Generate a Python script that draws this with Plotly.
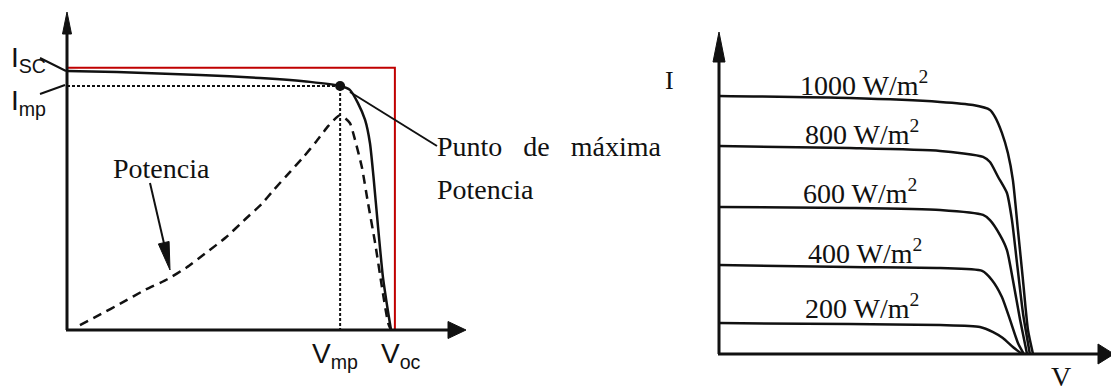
import plotly.graph_objects as go

# ---------------- left panel: I-V and P-V curve of a PV cell ----------------
# voltage normalised to Voc, current normalised to Isc
iv_v = [0.0, 0.154, 0.410, 0.596, 0.750, 0.843, 0.873, 0.898, 0.920, 0.935, 0.946, 0.960, 0.975, 0.990, 1.0]
iv_i = [1.0, 0.996, 0.985, 0.973, 0.958, 0.942, 0.927, 0.876, 0.811, 0.722, 0.591, 0.398, 0.205, 0.077, 0.0]

# power normalised to Pmax
pw_v = [0.04, 0.10, 0.17, 0.24, 0.31, 0.37, 0.43, 0.49, 0.55, 0.60, 0.64, 0.69, 0.73, 0.77, 0.806, 0.843,
        0.873, 0.889, 0.910, 0.929, 0.951, 0.972, 0.991, 1.0]
pw_p = [0.023, 0.07, 0.127, 0.186, 0.236, 0.292, 0.36, 0.43, 0.515, 0.585, 0.655, 0.738, 0.805, 0.878, 0.948, 1.0,
        0.963, 0.884, 0.758, 0.591, 0.405, 0.200, 0.033, 0.0]

v_mp, i_mp = 0.843, 0.942
ideal_v = [0.0, 1.012, 1.012]
ideal_i = [1.013, 1.013, 0.0]

# ---------------- right panel: I-V curves vs irradiance ----------------
irr_labels = ["1000 W/m<sup>2</sup>", "800 W/m<sup>2</sup>", "600 W/m<sup>2</sup>",
              "400 W/m<sup>2</sup>", "200 W/m<sup>2</sup>"]

g1000_v = [0.0, 0.417, 0.704, 0.809, 0.863, 0.879, 0.901, 0.920, 0.936, 0.952, 0.968, 0.984, 1.0]
g1000_i = [1.0, 0.992, 0.977, 0.965, 0.946, 0.919, 0.857, 0.779, 0.674, 0.481, 0.287, 0.093, 0.0]

g800_v = [0.0, 0.417, 0.704, 0.841, 0.863, 0.889, 0.917, 0.933, 0.949, 0.968, 0.990]
g800_i = [0.806, 0.798, 0.787, 0.764, 0.744, 0.686, 0.624, 0.519, 0.353, 0.159, 0.0]

g600_v = [0.0, 0.417, 0.704, 0.841, 0.863, 0.895, 0.917, 0.936, 0.959, 0.981]
g600_i = [0.570, 0.566, 0.558, 0.539, 0.519, 0.461, 0.403, 0.287, 0.132, 0.0]

g400_v = [0.0, 0.417, 0.704, 0.838, 0.869, 0.901, 0.927, 0.952, 0.971]
g400_i = [0.345, 0.337, 0.333, 0.322, 0.287, 0.221, 0.132, 0.043, 0.0]

g200_v = [0.0, 0.417, 0.704, 0.831, 0.873, 0.904, 0.936, 0.965]
g200_i = [0.120, 0.116, 0.112, 0.105, 0.085, 0.062, 0.027, 0.0]

# ---------------- page geometry (pixels) ----------------
W, H = 1111, 391
SPLIT = 600
L_X0, L_XS = 67, 324      # V = 0 column and px per Voc
L_Y0, L_YS = 330, 259     # I = 0 row and px per Isc
P_YS = 215                # px per Pmax
R_X0, R_XS = 719, 314
R_Y0, R_YS = 354, 258


def lx(px):
    return (px - L_X0) / L_XS


def ly(py):
    return (L_Y0 - py) / L_YS


def rx(px):
    return (px - R_X0) / R_XS


def ry(py):
    return (R_Y0 - py) / R_YS


BLACK = "#111111"
RED = "#c00000"
SERIF = "Liberation Serif, Times New Roman, serif"
SANS = "Liberation Sans, Arial, sans-serif"

fig = go.Figure()

# ideal rectangle Isc x Voc
fig.add_trace(go.Scatter(x=ideal_v, y=ideal_i, mode="lines",
                         line=dict(color=RED, width=2), xaxis="x", yaxis="y"))
# guides to the maximum power point
fig.add_trace(go.Scatter(x=[0, v_mp, v_mp], y=[i_mp, i_mp, 0], mode="lines",
                         line=dict(color=BLACK, width=2, dash="3px,2px"), xaxis="x", yaxis="y"))
# I-V curve
fig.add_trace(go.Scatter(x=iv_v, y=iv_i, mode="lines",
                         line=dict(color=BLACK, width=2.5, shape="spline", smoothing=0.6),
                         xaxis="x", yaxis="y"))
# P-V curve on its own scale
fig.add_trace(go.Scatter(x=pw_v, y=pw_p, mode="lines",
                         line=dict(color=BLACK, width=2.5, dash="9px,6px", shape="spline", smoothing=0.5),
                         xaxis="x", yaxis="y3"))
# maximum power point
fig.add_trace(go.Scatter(x=[v_mp], y=[i_mp], mode="markers",
                         marker=dict(color=BLACK, size=10), xaxis="x", yaxis="y"))

# irradiance family
for vv, ii in [(g1000_v, g1000_i), (g800_v, g800_i), (g600_v, g600_i),
               (g400_v, g400_i), (g200_v, g200_i)]:
    fig.add_trace(go.Scatter(x=vv, y=ii, mode="lines",
                             line=dict(color=BLACK, width=2.5, shape="spline", smoothing=0.6),
                             xaxis="x2", yaxis="y2"))


def seg(xref, yref, x0, y0, x1, y1, width=3):
    return dict(type="line", xref=xref, yref=yref, x0=x0, y0=y0, x1=x1, y1=y1,
                line=dict(color=BLACK, width=width))


def arrow_head(xref, yref, x, y, dx, dy, length, width):
    # triangle with tip at (x, y); (dx, dy) is the pointing direction, y up
    n = (dx * dx + dy * dy) ** 0.5
    ux, uy = dx / n, dy / n
    nx, ny = -uy, ux
    bx, by = -ux * length, -uy * length
    p1 = (bx + nx * width / 2, by + ny * width / 2)
    p2 = (bx - nx * width / 2, by - ny * width / 2)
    path = f"M0,0 L{p1[0]:.2f},{p1[1]:.2f} L{p2[0]:.2f},{p2[1]:.2f} Z"
    return dict(type="path", xref=xref, yref=yref, xsizemode="pixel", ysizemode="pixel",
                xanchor=x, yanchor=y, path=path, fillcolor=BLACK,
                line=dict(color=BLACK, width=1))


shapes = [
    # left axes
    seg("x", "y", 0, 0, 0, ly(24)),
    seg("x", "y", lx(66), 0, lx(452), 0),
    arrow_head("x", "y", 0, ly(12), 0, 1, 22, 9),
    arrow_head("x", "y", lx(466), 0, 1, 0, 18, 17),
    # pointers
    seg("x", "y", lx(40), ly(58), lx(66), ly(71), 2),
    seg("x", "y", lx(40), ly(94), lx(65), ly(85), 2),
    seg("x", "y", lx(350), ly(92), lx(437), ly(146), 2),
    seg("x", "y", lx(150), ly(183), lx(166), ly(252), 2),
    arrow_head("x", "y", lx(170), ly(270), 20, -87, 28, 11),
    # right axes
    seg("x2", "y2", 0, 0, 0, ry(50)),
    seg("x2", "y2", rx(718), 0, rx(1104), 0),
    arrow_head("x2", "y2", 0, ry(32), 0, 1, 30, 12),
    arrow_head("x2", "y2", rx(1114), 0, 1, 0, 16, 20),
]


def note(text, xref, yref, x, y, size, family=SERIF, xanchor="center", yanchor="middle"):
    return dict(text=text, xref=xref, yref=yref, x=x, y=y, showarrow=False,
                xanchor=xanchor, yanchor=yanchor,
                font=dict(family=family, size=size, color=BLACK))


annotations = [
    note("Potencia", "x", "y", lx(161), ly(168), 28),
    note("Punto \u2002de \u2002máxima", "x", "y", lx(435), ly(146), 28, xanchor="left"),
    note("Potencia", "x", "y", lx(435), ly(189), 28, xanchor="left"),
    note("I<sub>SC</sub>", "x", "y", lx(9), ly(59), 28, family=SANS, xanchor="left"),
    note("I<sub>mp</sub>", "x", "y", lx(9), ly(102), 28, family=SANS, xanchor="left"),
    note("V<sub>mp</sub>", "x", "y", lx(335), ly(355), 28, family=SANS),
    note("V<sub>oc</sub>", "x", "y", lx(401), ly(355), 28, family=SANS),
    note("I", "x2", "y2", rx(669), ry(80), 26),
    note("V", "x2", "y2", rx(1061), ry(376), 28),
]
label_y = [83, 132, 191, 251, 306]
label_x = [864, 862, 860, 865, 862]
for txt, px, py in zip(irr_labels, label_x, label_y):
    annotations.append(note(txt, "x2", "y2", rx(px), ry(py), 28))

hidden = dict(visible=False, fixedrange=True, showgrid=False, zeroline=False)
fig.update_layout(
    width=W, height=H, autosize=False,
    margin=dict(l=0, r=0, t=0, b=0, pad=0),
    paper_bgcolor="white", plot_bgcolor="white",
    showlegend=False,
    xaxis=dict(domain=[0, SPLIT / W], range=[lx(0), lx(SPLIT)], anchor="y", **hidden),
    yaxis=dict(domain=[0, 1], range=[ly(H), ly(0)], anchor="x", **hidden),
    yaxis3=dict(overlaying="y", anchor="x", range=[(L_Y0 - H) / P_YS, L_Y0 / P_YS], **hidden),
    xaxis2=dict(domain=[SPLIT / W, 1], range=[rx(SPLIT), rx(W)], anchor="y2", **hidden),
    yaxis2=dict(domain=[0, 1], range=[ry(H), ry(0)], anchor="x2", **hidden),
    shapes=shapes,
    annotations=annotations,
)

fig.write_html("out.html")
